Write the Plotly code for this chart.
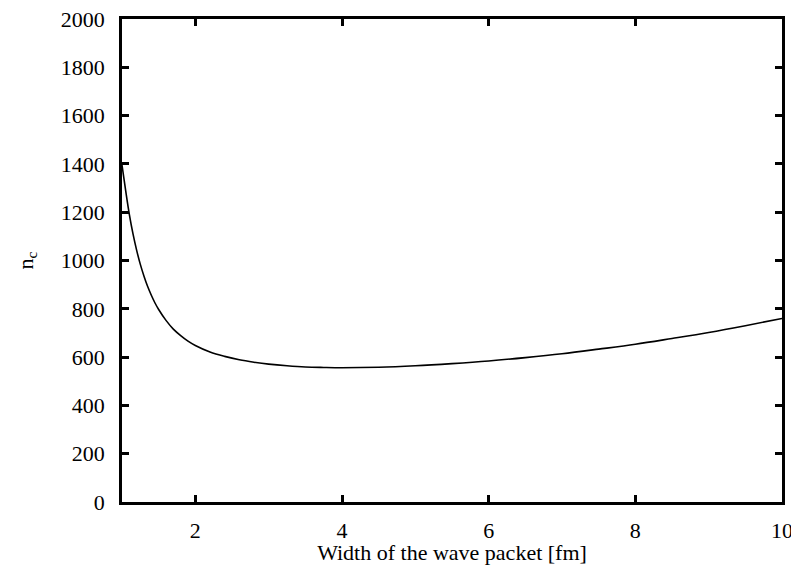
import plotly.graph_objects as go

width_fm = [1.0, 1.05, 1.1, 1.15, 1.2, 1.25, 1.3, 1.35, 1.4, 1.45, 1.5, 1.6, 1.7, 1.8, 1.9, 2.0,
            2.2, 2.4, 2.6, 2.8, 3.0, 3.25, 3.5, 3.75, 4.0, 4.5, 5.0, 5.5, 6.0, 6.5, 7.0, 7.5,
            8.0, 8.5, 9.0, 9.5, 10.0]
n_c = [1395, 1289, 1191, 1110, 1042, 984, 935, 892, 856, 824, 797, 752, 716, 689, 666, 648,
       621, 603, 589, 579, 571, 564, 559, 557, 556, 558, 564, 573, 584, 598, 614, 633,
       653, 677, 702, 730, 760]

x_ticks = [2, 4, 6, 8, 10]
y_ticks = list(range(0, 2001, 200))

font = dict(family="Liberation Serif, Times New Roman, serif", size=22, color="black")

fig = go.Figure()
fig.add_trace(go.Scatter(x=width_fm, y=n_c, mode="lines",
                         line=dict(color="black", width=1.6, shape="spline", smoothing=1.0),
                         showlegend=False, hoverinfo="skip", cliponaxis=True))

axis_common = dict(showgrid=False, zeroline=False, showline=True, linecolor="black", linewidth=2.5,
                   mirror="ticks", ticks="inside", ticklen=7, tickwidth=2.5, tickcolor="black",
                   tickfont=font, automargin=False, ticklabeloverflow="allow")

fig.update_xaxes(range=[1, 10], tickvals=x_ticks, ticktext=[str(v) for v in x_ticks],
                 title=dict(text="Width of the wave packet [fm]", font=font, standoff=4),
                 ticklabelstandoff=7, **axis_common)
fig.update_yaxes(range=[0, 2000], tickvals=y_ticks, ticktext=[str(v) for v in y_ticks],
                 title=dict(text="n<sub>c</sub>", font=font, standoff=22),
                 ticklabelstandoff=10, **axis_common)

# page body has an 8px margin, so the figure is sized to fit inside the 799x565 window
fig.update_layout(width=791, height=557, plot_bgcolor="white", paper_bgcolor="white",
                  margin=dict(l=114, r=17, t=11, b=63, autoexpand=False), font=font)

fig.write_html("out.html")
